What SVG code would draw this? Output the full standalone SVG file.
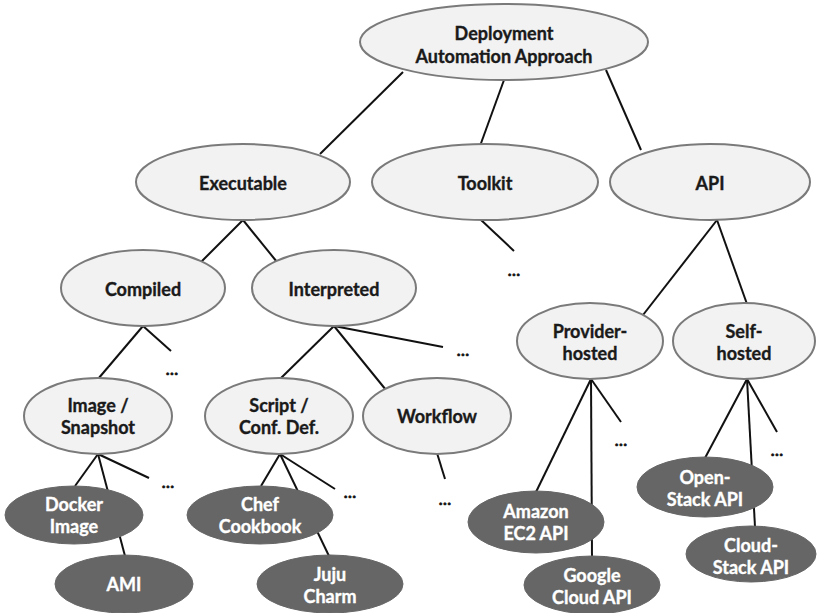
<svg xmlns="http://www.w3.org/2000/svg" width="817" height="613" viewBox="0 0 817 613">
  <style>
    .edge { stroke: #111; stroke-width: 2; fill: none; }
    .light ellipse { fill: #f2f2f2; stroke: #7a7a7a; stroke-width: 2; }
    .dark ellipse { fill: #666666; stroke: #666666; stroke-width: 1; }
    text { font-family: Lato, "Open Sans", "Liberation Sans", sans-serif; font-weight: bold; font-size: 18px; text-anchor: middle; stroke-width: 0.35; }
    .light text { fill: #1a1a1a; stroke: #1a1a1a; }
    .dark text { fill: #ffffff; stroke: #ffffff; }
    .more { fill: #111; stroke: #111; stroke-width: 0.6; font-size: 16px; }
  </style>
  <rect width="817" height="613" fill="#ffffff"/>

  <!-- connectors (drawn under the nodes) -->
  <g id="connectors">
    <line class="edge" x1="403" y1="72" x2="320" y2="154"/>
    <line class="edge" x1="504" y1="80" x2="480" y2="146"/>
    <line class="edge" x1="606" y1="70" x2="641" y2="150"/>
    <line class="edge" x1="480" y1="219" x2="514" y2="251"/>
    <line class="edge" x1="243" y1="220" x2="201" y2="262"/>
    <line class="edge" x1="243" y1="220" x2="277" y2="262"/>
    <line class="edge" x1="717" y1="220" x2="643" y2="315"/>
    <line class="edge" x1="717" y1="220" x2="747" y2="304"/>
    <line class="edge" x1="143" y1="326" x2="98" y2="379"/>
    <line class="edge" x1="143" y1="326" x2="171" y2="351"/>
    <line class="edge" x1="334" y1="326" x2="280" y2="379"/>
    <line class="edge" x1="334" y1="326" x2="386" y2="390"/>
    <line class="edge" x1="334" y1="326" x2="443" y2="347"/>
    <line class="edge" x1="437" y1="453" x2="445" y2="479"/>
    <line class="edge" x1="98" y1="454" x2="75" y2="486"/>
    <line class="edge" x1="98" y1="454" x2="125" y2="556"/>
    <line class="edge" x1="98" y1="454" x2="149" y2="478"/>
    <line class="edge" x1="280" y1="454" x2="261" y2="486"/>
    <line class="edge" x1="280" y1="454" x2="329" y2="556"/>
    <line class="edge" x1="280" y1="454" x2="335" y2="489"/>
    <line class="edge" x1="591" y1="379" x2="536" y2="492"/>
    <line class="edge" x1="591" y1="379" x2="592" y2="557"/>
    <line class="edge" x1="591" y1="379" x2="621" y2="422"/>
    <line class="edge" x1="747" y1="379" x2="705" y2="458"/>
    <line class="edge" x1="747" y1="379" x2="755" y2="527"/>
    <line class="edge" x1="747" y1="379" x2="777" y2="432"/>
  </g>

  <!-- open branches -->
  <g id="ellipses">
    <text class="more" x="514" y="276">…</text>
    <text class="more" x="172" y="375">…</text>
    <text class="more" x="463" y="356">…</text>
    <text class="more" x="168" y="488">…</text>
    <text class="more" x="350" y="498">…</text>
    <text class="more" x="445" y="505">…</text>
    <text class="more" x="621" y="446">…</text>
    <text class="more" x="777" y="456">…</text>
  </g>

  <!-- category nodes -->
  <g id="root" class="light">
    <ellipse cx="504" cy="42" rx="144" ry="38"/>
    <text x="504" y="40">Deployment</text>
    <text x="504" y="63">Automation Approach</text>
  </g>
  <g id="executable" class="light">
    <ellipse cx="243" cy="182" rx="107" ry="38"/>
    <text x="243" y="190">Executable</text>
  </g>
  <g id="toolkit" class="light">
    <ellipse cx="485" cy="182" rx="113" ry="38"/>
    <text x="485" y="190">Toolkit</text>
  </g>
  <g id="api" class="light">
    <ellipse cx="710" cy="182" rx="100" ry="38"/>
    <text x="710" y="190">API</text>
  </g>
  <g id="compiled" class="light">
    <ellipse cx="143" cy="288" rx="82" ry="38"/>
    <text x="143" y="296">Compiled</text>
  </g>
  <g id="interpreted" class="light">
    <ellipse cx="334" cy="288" rx="82" ry="38"/>
    <text x="334" y="296">Interpreted</text>
  </g>
  <g id="image-snapshot" class="light">
    <ellipse cx="98" cy="416" rx="74" ry="38"/>
    <text x="98" y="412">Image /</text>
    <text x="98" y="434">Snapshot</text>
  </g>
  <g id="script-conf" class="light">
    <ellipse cx="279" cy="416" rx="74" ry="38"/>
    <text x="279" y="412">Script /</text>
    <text x="279" y="434">Conf. Def.</text>
  </g>
  <g id="workflow" class="light">
    <ellipse cx="437" cy="416" rx="74" ry="38"/>
    <text x="437" y="423">Workflow</text>
  </g>
  <g id="provider-hosted" class="light">
    <ellipse cx="590" cy="341" rx="73" ry="38"/>
    <text x="590" y="338">Provider-</text>
    <text x="590" y="360">hosted</text>
  </g>
  <g id="self-hosted" class="light">
    <ellipse cx="744" cy="341" rx="71" ry="38"/>
    <text x="744" y="338">Self-</text>
    <text x="744" y="360">hosted</text>
  </g>

  <!-- example nodes -->
  <g id="docker-image" class="dark">
    <ellipse cx="74" cy="515" rx="69" ry="29"/>
    <text x="74" y="511">Docker</text>
    <text x="74" y="533">Image</text>
  </g>
  <g id="ami" class="dark">
    <ellipse cx="124" cy="584" rx="69" ry="29"/>
    <text x="124" y="591">AMI</text>
  </g>
  <g id="chef-cookbook" class="dark">
    <ellipse cx="260" cy="515" rx="73" ry="29"/>
    <text x="260" y="511">Chef</text>
    <text x="260" y="533">Cookbook</text>
  </g>
  <g id="juju-charm" class="dark">
    <ellipse cx="330" cy="584" rx="73" ry="29"/>
    <text x="330" y="581">Juju</text>
    <text x="330" y="603">Charm</text>
  </g>
  <g id="amazon-ec2" class="dark">
    <ellipse cx="536" cy="522" rx="68" ry="31"/>
    <text x="536" y="518">Amazon</text>
    <text x="536" y="540">EC2 API</text>
  </g>
  <g id="google-cloud" class="dark">
    <ellipse cx="592" cy="585" rx="68" ry="29"/>
    <text x="592" y="582">Google</text>
    <text x="592" y="604">Cloud API</text>
  </g>
  <g id="openstack" class="dark">
    <ellipse cx="705" cy="487" rx="68" ry="30"/>
    <text x="705" y="484">Open-</text>
    <text x="705" y="506">Stack API</text>
  </g>
  <g id="cloudstack" class="dark">
    <ellipse cx="751" cy="554" rx="65" ry="28"/>
    <text x="751" y="552">Cloud-</text>
    <text x="751" y="574">Stack API</text>
  </g>
</svg>
